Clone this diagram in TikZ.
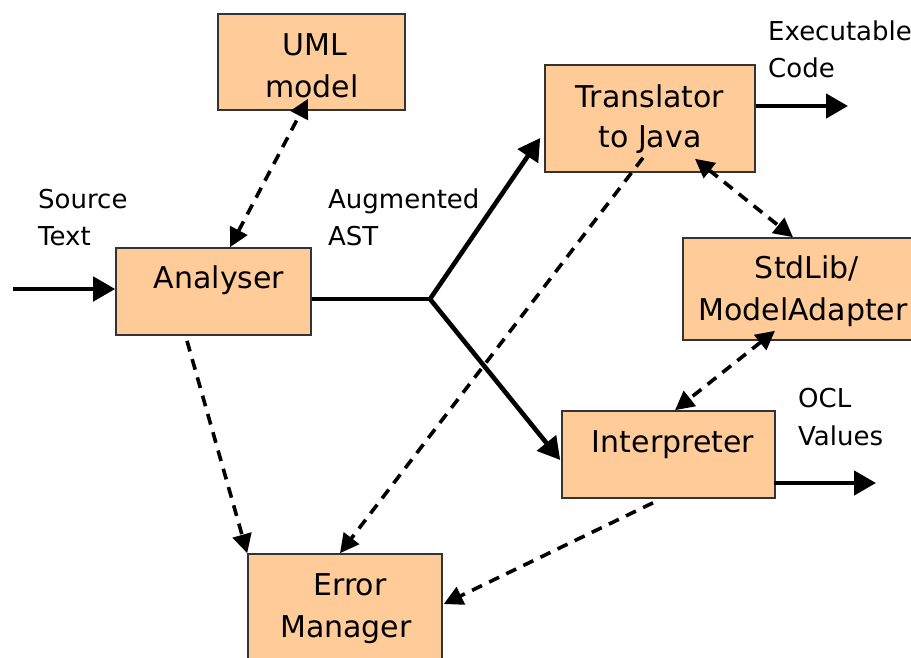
\documentclass[tikz,border=0pt]{standalone}
\usepackage{fontspec}
\setmainfont{DejaVu Sans}
\usetikzlibrary{arrows.meta}
\definecolor{boxfill}{HTML}{FFCC99}
\definecolor{boxline}{HTML}{333333}
\tikzset{
  unit/.style={draw=boxline, line width=1.6pt, fill=boxfill, inner sep=0pt, anchor=center},
  txt/.style={anchor=base, inner sep=0pt, font=\fontsize{30}{34}\selectfont},
  lbl/.style={anchor=base west, inner sep=0pt, font=\fontsize{26}{30}\selectfont},
  flow/.style={line width=4.6pt, -{Triangle[length=22pt,width=24pt]}},
  plain/.style={line width=4.6pt},
  dep/.style={line width=3.6pt, dash pattern=on 11pt off 8pt, -{Triangle[length=19pt,width=19pt]}},
  dep2/.style={dep, {Triangle[length=19pt,width=19pt]}-{Triangle[length=19pt,width=19pt]}}
}
\begin{document}
\begin{tikzpicture}[x=1pt, y=-1pt]
\clip (0,0) rectangle (911,657);
\fill[white] (0,0) rectangle (911,657);

% component boxes
\node[unit, minimum width=187pt, minimum height=96pt]  (uml)    at (311.5,62)    {};
\node[unit, minimum width=195pt, minimum height=87pt]  (ana)    at (213.5,291.5) {};
\node[unit, minimum width=210pt, minimum height=107pt] (trans)  at (650,118.5)   {};
\node[unit, minimum width=230pt, minimum height=102pt] (std)    at (798,289)     {};
\node[unit, minimum width=213pt, minimum height=87pt]  (interp) at (668.5,454.5) {};
\node[unit, minimum width=194pt, minimum height=106pt] (err)    at (345,607)     {};

% box captions
\node[txt] (umlA)   at (315,55)  {UML};
\node[txt] (umlB)   at (312,97)  {model};
\node[txt] (anaT)   at (219,288) {Analyser};
\node[txt] (transA) at (650,107) {Translator};
\node[txt] (transB) at (650,147) {to Java};
\node[txt] (stdA)   at (807,278) {StdLib/};
\node[txt] (stdB)   at (803,320) {ModelAdapter};
\node[txt] (intT)   at (673,452) {Interpreter};
\node[txt] (errA)   at (350,595) {Error};
\node[txt] (errB)   at (346,637) {Manager};

% free labels
\node[lbl] (srcA) at (38,208)  {Source};
\node[lbl] (srcB) at (38,245)  {Text};
\node[lbl] (astA) at (328,208) {Augmented};
\node[lbl] (astB) at (328,245) {AST};
\node[lbl] (exeA) at (768,40)  {Executable};
\node[lbl] (exeB) at (768,77)  {Code};
\node[lbl] (oclA) at (798,407) {OCL};
\node[lbl] (oclB) at (798,445) {Values};

% free ends and the branch point
\coordinate (src)  at (13,289);
\coordinate (junc) at (430,299);
\coordinate (exe)  at (848,106);
\coordinate (ocl)  at (876,483);

% main data flow
\draw[flow] (src) -- (src -| ana.west);
\draw[plain, line join=miter] ([yshift=-7.5pt]ana.east) -- (junc);
\draw[flow] (junc) -- ([xshift=-4pt,yshift=-19.5pt]trans.west);
\draw[flow] (junc) -- ([xshift=-1pt,yshift=-5.5pt]interp.west);
\draw[flow] ([yshift=12.5pt]trans.east) -- (exe);
\draw[flow] ([xshift=-2pt,yshift=-28.5pt]interp.east) -- (ocl);

% dependencies
\draw[dep2] ([xshift=16.5pt]ana.north) -- ([xshift=-3.5pt,yshift=12pt]uml.south);
\draw[dep]  ([xshift=-26.5pt,yshift=-5pt]ana.south) -- (err.north west);
\draw[dep]  ([xshift=-7pt,yshift=15pt]trans.south) -- ([xshift=-5pt]err.north);
\draw[dep2] ([xshift=45pt,yshift=14pt]trans.south) -- ([xshift=-5pt]std.north);
\draw[dep2] ([xshift=-23pt,yshift=10pt]std.south) -- ([xshift=6.5pt]interp.north);
\draw[dep]  ([xshift=-15.5pt,yshift=-4pt]interp.south) -- ([xshift=1pt,yshift=3pt]err.east);
\end{tikzpicture}
\end{document}
